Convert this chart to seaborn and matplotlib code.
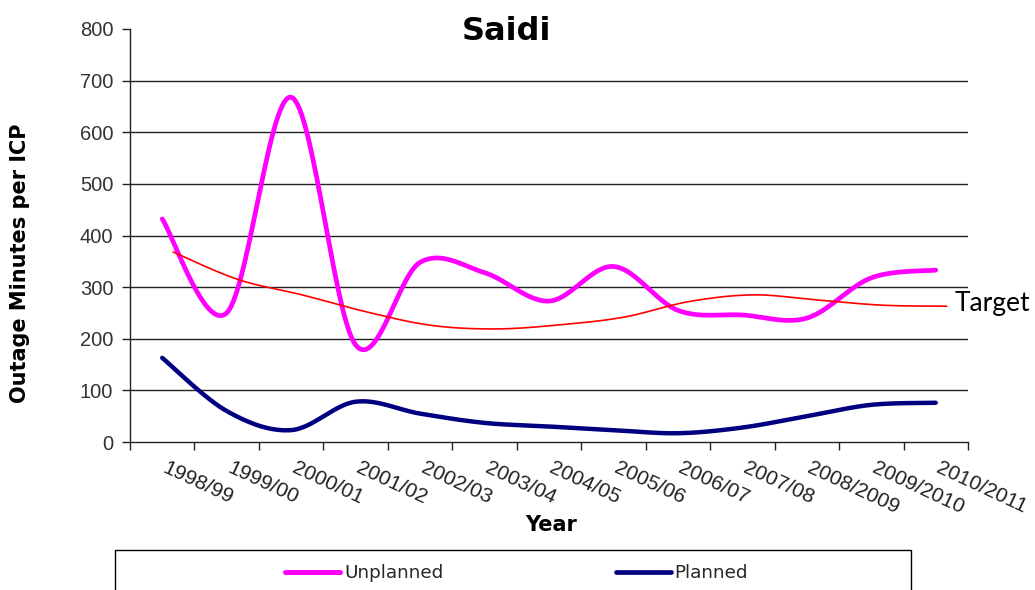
import numpy as np
import pandas as pd
import matplotlib
matplotlib.use("Agg")
import matplotlib.pyplot as plt
import seaborn as sns
from matplotlib.lines import Line2D
from matplotlib.patches import Rectangle

years = ["1998/99", "1999/00", "2000/01", "2001/02", "2002/03", "2003/04", "2004/05",
         "2005/06", "2006/07", "2007/08", "2008/2009", "2009/2010", "2010/2011"]
unplanned = [432, 250, 668, 188, 348, 328, 273, 340, 255, 246, 240, 318, 333]
planned = [163, 60, 23, 78, 55, 37, 30, 23, 17, 28, 50, 72, 76]
target = [368, 315, 285, 252, 226, 219, 227, 242, 272, 285, 275, 265, 263]
y_ticks = [0, 100, 200, 300, 400, 500, 600, 700, 800]


def smooth(xv, yv, n=30):
    """Catmull-Rom spline through the points (Excel-like smoothed line)."""
    P = np.column_stack([xv, yv]).astype(float)
    P = np.vstack([P[0], P, P[-1]])
    out = []
    t = np.linspace(0, 1, n)[:, None]
    for i in range(1, len(P) - 2):
        p0, p1, p2, p3 = P[i - 1], P[i], P[i + 1], P[i + 2]
        seg = 0.5 * ((2 * p1) + (-p0 + p2) * t + (2 * p0 - 5 * p1 + 4 * p2 - p3) * t ** 2
                     + (-p0 + 3 * p1 - 3 * p2 + p3) * t ** 3)
        out.append(seg if i == 1 else seg[1:])
    out = np.vstack(out)
    return out[:, 0], out[:, 1]


sns.set_theme(style="white")
plt.rcParams["font.family"] = ["DejaVu Sans"]

fig = plt.figure(figsize=(10.35, 5.90), dpi=100)
L, R, B, T = 130 / 1035, 968 / 1035, 1 - 442 / 590, 1 - 29 / 590
ax = fig.add_axes([L, B, R - L, T - B])

idx = np.arange(len(years))
series = [
    (unplanned, idx, "#FF00FF", 3.4),
    (planned, idx, "#000080", 3.2),
    (target, idx + 0.17, "#FF0000", 1.2),
]
for vals, xpos, col, lw in series:
    sx, sy = smooth(xpos, vals)
    df = pd.DataFrame({"x": sx, "y": sy})
    sns.lineplot(data=df, x="x", y="y", ax=ax, color=col, lw=lw, sort=False,
                 estimator=None, solid_capstyle="round")

ax.set_xlim(-0.5, len(years) - 0.5)
ax.set_ylim(0, 800)
ax.set_yticks(y_ticks)
ax.set_yticklabels([str(v) for v in y_ticks], fontsize=14.5, color="#333333",
                   family="Liberation Sans")
for v in y_ticks[1:-1]:
    ax.axhline(v, color="#222222", lw=1.0, zorder=0)

# category boundary ticks (major, unlabeled) and category labels (minor, no mark)
ax.set_xticks(np.arange(len(years) + 1) - 0.5)
ax.set_xticklabels([])
ax.set_xticks(idx + 0.09, minor=True)
ax.set_xticklabels(years, minor=True, rotation=-25, ha="left", va="top", fontsize=15,
                   color="#222222", family="Liberation Sans", rotation_mode="anchor")
ax.tick_params(axis="both", which="major", direction="out", length=6, width=1,
               color="#222222", bottom=True, left=True)
ax.tick_params(axis="x", which="minor", length=0, pad=12, bottom=True)
ax.tick_params(axis="y", pad=6)

for s in ["top", "right"]:
    ax.spines[s].set_visible(False)
for s in ["left", "bottom"]:
    ax.spines[s].set_color("#222222")
    ax.spines[s].set_linewidth(1.0)

ax.set_xlabel("")
ax.set_ylabel("")
fig.text(20 / 1035, 1 - 263 / 590, "Outage Minutes per ICP", rotation=90,
         ha="center", va="center", fontsize=15, fontweight="bold", color="black")
fig.text(551 / 1035, 1 - 525 / 590, "Year", ha="center", va="center",
         fontsize=15, fontweight="bold", color="black")
fig.text(507 / 1035, 1 - 31 / 590, "Saidi", ha="center", va="center",
         fontsize=23, fontweight="bold", color="black")
fig.text(955 / 1035, 1 - 304 / 590, "Target", ha="left", va="center",
         fontsize=19, color="black", family="Lato")

# legend box (extends past the bottom edge)
fig.patches.append(Rectangle((115 / 1035, -0.05), (911 - 115) / 1035, (590 - 550) / 590 + 0.05,
                             transform=fig.transFigure, fill=False, edgecolor="black",
                             lw=1.0))
handles = [Line2D([0], [0], color="#FF00FF", lw=3.6),
           Line2D([0], [0], color="#000080", lw=3.4)]
fig.legend(handles, ["Unplanned", "Planned"], ncol=2, frameon=False,
           loc="center left", bbox_to_anchor=(285 / 1035, 1 - 573 / 590),
           borderpad=0, borderaxespad=0, handlelength=3.0, handletextpad=0.22,
           columnspacing=9.4, prop={"size": 13.2})

fig.savefig("out.png", dpi=100)
